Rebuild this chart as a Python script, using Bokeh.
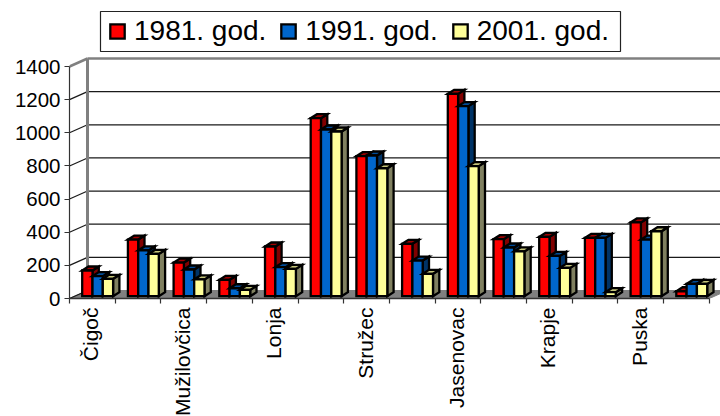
import math
from bokeh.embed import file_html
from bokeh.resources import INLINE
from bokeh.plotting import figure
from bokeh.models import LinearAxis, FixedTicker, Legend, LegendItem, BoxAnnotation

categories = ["Čigoč", "", "Mužilovčica", "", "Lonja", "", "Stružec", "",
              "Jasenovac", "", "Krapje", "", "Puska", ""]
series_names = ["1981. god.", "1991. god.", "2001. god."]
v1981 = [155, 342, 203, 99, 300, 1074, 845, 316, 1221, 344, 358, 352, 445, 30]
v1991 = [121, 276, 161, 48, 175, 1006, 849, 215, 1147, 294, 243, 352, 342, 74]
v2001 = [105, 255, 101, 38, 165, 994, 772, 135, 785, 270, 171, 24, 392, 74]
y_ticks = [0, 200, 400, 600, 800, 1000, 1200, 1400]

PX_X = 45.7        # pixels per category
PX_Y = 232 / 1400  # pixels per value unit
WALL_DX, WALL_DY = 18 / PX_X, 8 / PX_Y
BAR_X0, BAR_W = 12.7 / PX_X, 10.3 / PX_X
BAR_BASE = 2.3 / PX_Y
SIDE_DX, SIDE_DY = 6.3 / PX_X, 4 / PX_Y
n = len(categories)

p = figure(width=720, height=416, frame_width=651, frame_height=298,
           output_backend="svg", toolbar_location=None,
           x_range=(0, 651 / PX_X), y_range=(0, 298 / PX_Y),
           min_border_left=69, min_border_right=0, min_border_top=0, min_border_bottom=0,
           x_axis_type=None, y_axis_type=None, outline_line_color=None,
           background_fill_color="white", border_fill_color="white")
p.grid.visible = False

# floor
p.patch([0, n, n + WALL_DX, WALL_DX], [0, 0, WALL_DY, WALL_DY],
        fill_color="#808080", line_color="#808080")
# back wall grid and left wall diagonals
right = 651 / PX_X
for t in y_ticks[1:-1]:
    p.line([WALL_DX, right], [t + WALL_DY] * 2, line_color="#1a1a1a", line_width=1.2)
for t in y_ticks[:-1]:
    p.line([0, WALL_DX], [t, t + WALL_DY], line_color="#1a1a1a", line_width=1.2)
# wall edges
top = y_ticks[-1]
p.line([WALL_DX, right], [top + WALL_DY] * 2, line_color="#808080", line_width=2.5)
p.line([0, WALL_DX], [top, top + WALL_DY], line_color="#808080", line_width=2.5)
p.line([WALL_DX, WALL_DX], [WALL_DY, top + WALL_DY], line_color="#808080", line_width=3)

# bars
styles = [("#ff0000", "#a00000", "#800000"),
          ("#0066cc", "#004c99", "#003366"),
          ("#ffff99", "#c4c47a", "#808060")]
legend_items = []
for s, (name, vals, (front, topc, side)) in enumerate(zip(series_names, [v1981, v1991, v2001], styles)):
    sx, sy, tx, ty, fx, fy = [], [], [], [], [], []
    for k, v in enumerate(vals):
        x0 = k + BAR_X0 + s * BAR_W
        x1 = x0 + BAR_W
        y0 = BAR_BASE
        y1 = y0 + v
        fx.append([x0, x1, x1, x0])
        fy.append([y0, y0, y1, y1])
        sx.append([x1, x1 + SIDE_DX, x1 + SIDE_DX, x1])
        sy.append([y0, y0 + SIDE_DY, y1 + SIDE_DY, y1])
        tx.append([x0, x1, x1 + SIDE_DX, x0 + SIDE_DX])
        ty.append([y1, y1, y1 + SIDE_DY, y1 + SIDE_DY])
    kw = dict(line_color="black", line_width=2.3, line_join="miter")
    p.patches(sx, sy, fill_color=side, **kw)
    p.patches(tx, ty, fill_color=topc, **kw)
    r = p.patches(fx, fy, fill_color=front, **kw)
    legend_items.append(LegendItem(label=name, renderers=[r]))

# axes
yax = LinearAxis(ticker=FixedTicker(ticks=y_ticks), bounds=(0, 1400),
                 axis_line_color="#333333", axis_line_width=1.2,
                 major_tick_line_color="#333333", major_tick_line_width=1.2,
                 major_tick_out=5, major_tick_in=0, minor_tick_line_color=None,
                 major_label_text_font="Liberation Sans", major_label_text_font_size="20.5px",
                 major_label_text_color="black", major_label_standoff=4)
p.add_layout(yax, "left")

LABEL_SHIFT = 1.5 / PX_X
centers = [k + 0.5 - LABEL_SHIFT for k in range(n)]
xax = LinearAxis(ticker=FixedTicker(ticks=centers, minor_ticks=list(range(n + 1))),
                 bounds=(0, n), axis_line_color="#333333", axis_line_width=1.5,
                 major_tick_line_color=None, minor_tick_line_color="#333333",
                 minor_tick_line_width=1.2, minor_tick_out=5, minor_tick_in=0,
                 major_label_overrides={c: categories[k] for k, c in enumerate(centers)},
                 major_label_orientation=math.pi / 2,
                 major_label_text_font="Liberation Sans", major_label_text_font_size="21px",
                 major_label_text_color="black", major_label_standoff=3)
p.add_layout(xax, "below")

# legend frame (screen units here run from the frame's left and bottom), then the legend on top
p.add_layout(BoxAnnotation(left=31, right=551, top=287, bottom=247,
                           left_units="screen", right_units="screen",
                           top_units="screen", bottom_units="screen",
                           fill_color="white", fill_alpha=1,
                           line_color="#222222", line_width=1.2, line_alpha=1))
legend = Legend(items=legend_items, orientation="horizontal", location=(39, 251),
                label_text_font="Liberation Sans", label_text_font_size="28px",
                label_text_color="black", label_standoff=8, glyph_width=18, glyph_height=18,
                spacing=13, padding=8, margin=0, border_line_color=None,
                background_fill_alpha=0)
p.add_layout(legend, "center")

open("out.html", "w").write(file_html(p, INLINE))
